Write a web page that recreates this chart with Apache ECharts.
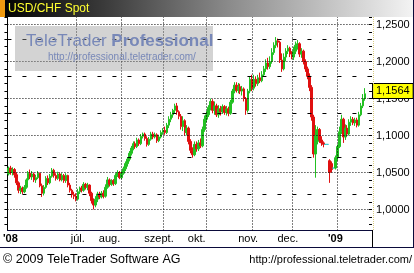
<!DOCTYPE html>
<html><head><meta charset="utf-8">
<script src="https://cdn.jsdelivr.net/npm/echarts@6/dist/echarts.min.js"></script>
<style>html,body{margin:0;padding:0;background:#fff}#c{width:414px;height:273px}</style>
</head><body><div id="c"></div><script>
// ---------- data ----------
const title = 'USD/CHF Spot';
// trading-day categories (weekdays) from 2008-05-14, 184 slots (last 3 empty)
const categories = [];
(function () {
  const d = new Date(Date.UTC(2008, 4, 14));
  while (categories.length < 184) {
    const wd = d.getUTCDay();
    if (wd !== 0 && wd !== 6) categories.push(d.toISOString().slice(0, 10));
    d.setUTCDate(d.getUTCDate() + 1);
  }
})();
const open = [1.048,1.056,1.050,1.054,1.047,1.036,1.026,1.029,1.024,1.030,1.040,1.049,1.044,1.048,1.040,1.043,1.049,1.032,1.022,1.030,
1.042,1.036,1.045,1.053,1.046,1.042,1.048,1.040,1.046,1.039,1.046,1.033,1.026,1.020,1.018,1.014,1.024,1.029,1.026,1.034,
1.030,1.033,1.022,1.012,1.006,1.014,1.021,1.017,1.022,1.018,1.030,1.040,1.034,1.039,1.035,1.046,1.050,1.043,1.049,1.055,
1.062,1.068,1.076,1.083,1.089,1.085,1.094,1.089,1.099,1.102,1.096,1.088,1.095,1.102,1.098,1.101,1.093,1.098,1.104,1.107,
1.104,1.114,1.122,1.128,1.134,1.140,1.132,1.126,1.112,1.120,1.104,1.110,1.092,1.080,1.074,1.088,1.082,1.090,1.086,1.108,
1.122,1.128,1.138,1.146,1.134,1.140,1.128,1.136,1.132,1.139,1.131,1.136,1.130,1.145,1.160,1.168,1.161,1.166,1.160,1.163,
1.150,1.134,1.160,1.176,1.164,1.176,1.170,1.178,1.174,1.182,1.190,1.198,1.193,1.200,1.212,1.222,1.228,1.226,1.202,1.190,
1.206,1.214,1.218,1.210,1.206,1.214,1.222,1.224,1.210,1.214,1.200,1.190,1.180,1.165,1.125,1.075,1.092,1.108,1.094,1.090,
1.088,1.088,1.066,1.062,1.056,1.056,1.070,1.085,1.105,1.122,1.098,1.110,1.102,1.118,1.122,1.117,1.121,1.114,1.128,1.140,
1.150];
const close = [1.056,1.050,1.054,1.047,1.036,1.026,1.029,1.024,1.030,1.040,1.049,1.044,1.048,1.040,1.043,1.049,1.032,1.022,1.030,1.042,
1.036,1.045,1.053,1.046,1.042,1.048,1.040,1.046,1.039,1.046,1.033,1.026,1.020,1.018,1.014,1.024,1.029,1.026,1.034,1.030,
1.033,1.022,1.012,1.006,1.014,1.021,1.017,1.022,1.018,1.030,1.040,1.034,1.039,1.035,1.046,1.050,1.043,1.049,1.055,1.062,
1.068,1.076,1.083,1.089,1.085,1.094,1.089,1.099,1.102,1.096,1.088,1.095,1.102,1.098,1.101,1.093,1.098,1.104,1.107,1.104,
1.114,1.122,1.128,1.134,1.140,1.132,1.126,1.112,1.120,1.104,1.110,1.092,1.080,1.074,1.088,1.082,1.090,1.086,1.108,1.122,
1.128,1.138,1.146,1.134,1.140,1.128,1.136,1.132,1.139,1.131,1.136,1.130,1.145,1.160,1.168,1.161,1.166,1.160,1.163,1.150,
1.134,1.160,1.176,1.164,1.176,1.170,1.178,1.174,1.182,1.190,1.198,1.193,1.200,1.212,1.222,1.228,1.226,1.202,1.190,1.206,
1.214,1.218,1.210,1.206,1.214,1.222,1.224,1.210,1.214,1.200,1.190,1.180,1.165,1.125,1.075,1.100,1.108,1.094,1.090,1.088,
1.088,1.088,1.050,1.054,1.056,1.070,1.085,1.105,1.122,1.098,1.110,1.102,1.118,1.122,1.117,1.121,1.114,1.128,1.140,1.150,
1.1564];
const low = [1.046,1.047,1.046,1.043,1.033,1.022,1.021,1.021,1.022,1.028,1.038,1.041,1.040,1.037,1.036,1.041,1.030,1.017,1.019,1.028,
1.033,1.034,1.043,1.043,1.039,1.040,1.038,1.038,1.036,1.036,1.030,1.023,1.016,1.014,1.011,1.012,1.021,1.023,1.024,1.027,
1.026,1.018,1.008,1.000,1.003,1.010,1.014,1.015,1.015,1.016,1.028,1.031,1.032,1.032,1.033,1.044,1.041,1.041,1.047,1.052,
1.058,1.065,1.073,1.080,1.082,1.083,1.086,1.087,1.096,1.093,1.085,1.086,1.093,1.095,1.096,1.090,1.091,1.096,1.101,1.101,
1.102,1.110,1.118,1.124,1.130,1.128,1.122,1.108,1.106,1.100,1.100,1.088,1.076,1.070,1.072,1.078,1.079,1.083,1.084,1.105,
1.118,1.125,1.134,1.130,1.128,1.125,1.124,1.127,1.129,1.128,1.127,1.126,1.128,1.143,1.157,1.158,1.157,1.156,1.154,1.146,
1.128,1.131,1.157,1.160,1.161,1.166,1.167,1.171,1.172,1.179,1.186,1.189,1.190,1.197,1.209,1.218,1.219,1.198,1.186,1.188,
1.200,1.210,1.206,1.203,1.202,1.210,1.216,1.206,1.205,1.196,1.186,1.176,1.160,1.120,1.070,1.043,1.088,1.090,1.086,1.084,
1.088,1.088,1.036,1.050,1.056,1.054,1.066,1.083,1.102,1.090,1.094,1.099,1.100,1.113,1.114,1.113,1.111,1.112,1.126,1.137,
1.147];
const high = [1.058,1.059,1.057,1.056,1.050,1.038,1.032,1.031,1.033,1.042,1.052,1.054,1.052,1.050,1.047,1.052,1.050,1.035,1.033,1.045,
1.046,1.048,1.056,1.055,1.049,1.051,1.050,1.049,1.048,1.049,1.047,1.036,1.028,1.024,1.022,1.028,1.031,1.032,1.037,1.036,
1.036,1.034,1.024,1.015,1.018,1.024,1.024,1.025,1.026,1.034,1.044,1.042,1.041,1.041,1.049,1.053,1.052,1.052,1.058,1.065,
1.071,1.079,1.086,1.092,1.092,1.097,1.096,1.102,1.104,1.104,1.099,1.098,1.105,1.105,1.104,1.103,1.101,1.107,1.110,1.112,
1.117,1.126,1.132,1.136,1.143,1.144,1.134,1.129,1.126,1.122,1.114,1.112,1.095,1.084,1.092,1.092,1.094,1.096,1.112,1.127,
1.133,1.141,1.150,1.149,1.146,1.143,1.141,1.140,1.142,1.141,1.140,1.139,1.148,1.163,1.172,1.172,1.171,1.170,1.167,1.165,
1.152,1.163,1.180,1.182,1.182,1.180,1.182,1.185,1.187,1.194,1.203,1.205,1.207,1.218,1.226,1.233,1.231,1.228,1.211,1.211,
1.218,1.222,1.220,1.214,1.220,1.227,1.229,1.226,1.218,1.216,1.203,1.193,1.184,1.168,1.128,1.114,1.112,1.110,1.099,1.092,
1.088,1.088,1.068,1.065,1.056,1.073,1.088,1.112,1.128,1.124,1.115,1.114,1.122,1.126,1.125,1.124,1.124,1.132,1.144,1.156,
1.164];
const yLabelValues = [1.00, 1.05, 1.10, 1.15, 1.20, 1.25];
const yHalfValues = [0.975, 1.025, 1.075, 1.125, 1.175, 1.225];
const monthStarts = ['2008-07-01','2008-08-01','2008-09-01','2008-10-01','2008-11-03','2008-12-01','2009-01-01'];
const xTickDates  = ['2008-05-15','2008-07-02','2008-07-24','2008-08-28','2008-09-24','2008-10-30','2008-11-27','2008-12-31'];
const xTickLabels = ["'08", 'júl.', 'aug.', 'szept.', 'okt.', 'nov.', 'dec.', "'09"];
const yearLabels = ["'08", "'09"];

// ---------- build ----------
const FONT = '"Liberation Sans", Arial, sans-serif';
const yMin = 0.97162, yMax = 1.26014;
const fmt = v => v.toFixed(4).replace('.', ',');
const candles = open.map((o, i) => [o, close[i], low[i], high[i]]);
const last = close[close.length - 1];
const labelMap = new Map(xTickDates.map((d, i) => [d, xTickLabels[i]]));
const minorTicks = [];
for (let k = 97; k <= 126; k++) minorTicks.push(+(k / 100).toFixed(2));

const dotted = { type: [1, 2], color: '#000', width: 1 };
const dashed = { type: [4, 11], color: '#000', width: 1 };
const markData = []
  .concat(yLabelValues.map(v => ({ yAxis: v, lineStyle: dotted })))
  .concat(yHalfValues.map(v => ({ yAxis: v, lineStyle: dashed })))
  .concat(monthStarts.map(d => ({ xAxis: d, lineStyle: { type: [1, 2], color: '#000', width: 1 } })));

const chart = echarts.init(document.getElementById('c'));
chart.setOption({
  animation: false,
  backgroundColor: '#ffffff',
  grid: { left: 3, top: 17, width: 369, height: 213.5, show: true, backgroundColor: '#ffffff', borderWidth: 0 },
  xAxis: {
    type: 'category', data: categories, boundaryGap: true,
    axisLine: { show: true, lineStyle: { color: '#0a0a3a', width: 1 } },
    axisTick: { show: false }, splitLine: { show: false },
    axisLabel: {
      interval: (i, v) => labelMap.has(v),
      formatter: v => { const t = labelMap.get(v) || ''; return yearLabels.includes(t) ? '{y|' + t + '}' : '{m|' + t + '}'; },
      margin: 3,
      rich: {
        y: { fontSize: 11, fontWeight: 'bold', color: '#000', fontFamily: FONT },
        m: { fontSize: 11, color: '#000', fontFamily: FONT }
      }
    }
  },
  yAxis: [{
    type: 'value', position: 'right', min: yMin, max: yMax,
    axisLine: { show: false }, splitLine: { show: false },
    axisTick: { show: true, inside: true, length: 3, customValues: minorTicks, lineStyle: { color: '#000' } },
    axisLabel: { customValues: yLabelValues, formatter: v => fmt(v), margin: 4, fontSize: 11, color: '#000', fontFamily: FONT }
  }, {
    type: 'value', position: 'left', min: yMin, max: yMax,
    axisLine: { show: true, lineStyle: { color: '#000' } }, splitLine: { show: false },
    axisTick: { show: true, inside: false, length: 3, customValues: minorTicks, lineStyle: { color: '#000' } },
    axisLabel: { show: false }
  }],
  series: [{
    type: 'candlestick', data: candles, barWidth: 2, z: 3,
    itemStyle: { color: '#22c022', color0: '#e01010', borderColor: '#22c022', borderColor0: '#e01010', borderColorDoji: '#33cccc', borderWidth: 1 },
    markLine: { silent: true, symbol: ['none', 'none'], label: { show: false }, data: markData }
  }, {
    // last-price tag on the value axis
    type: 'line', data: [], z: 30,
    markLine: {
      silent: true, symbol: ['none', 'none'],
      lineStyle: { color: 'rgba(0,0,0,0)', width: 1 },
      label: { show: true, position: 'end', distance: 1, formatter: () => fmt(last),
        backgroundColor: '#ffff00', borderColor: '#000', borderWidth: 1, padding: [2, 3, 1, 3],
        color: '#000', fontSize: 11, fontFamily: FONT },
      data: [{ yAxis: last }]
    }
  }],
  graphic: [
    { type: 'rect', z: 20, shape: { x: 0, y: 0, width: 414, height: 17 },
      style: { fill: new echarts.graphic.LinearGradient(0, 0, 1, 0, [{ offset: 0, color: '#000000' }, { offset: 0.25, color: '#3a3a3a' }, { offset: 0.55, color: '#8a8a8a' }, { offset: 1, color: '#f4f4f4' }]) } },
    { type: 'rect', z: 21, shape: { x: 0, y: 0, width: 5, height: 17 }, style: { fill: '#f09a10' } },
    { type: 'text', z: 22, x: 8, y: 9, style: { text: title, fill: '#ffff30', font: '12px ' + FONT, verticalAlign: 'middle' } },
    { type: 'rect', z: 10, shape: { x: 15, y: 26, width: 198, height: 45 }, style: { fill: 'rgba(150,150,150,0.42)' } },
    { type: 'text', z: 11, x: 26, y: 41, style: { rich: { a: { fontSize: 17, fontFamily: FONT, fill: '#7888b8' }, b: { fontSize: 17, fontWeight: 'bold', fontFamily: FONT, fill: '#7888b8' } }, text: '{a|TeleTrader }{b|Professional}', verticalAlign: 'middle' } },
    { type: 'text', z: 11, x: 48, y: 57, style: { text: 'http://professional.teletrader.com/', fill: '#7888b8', font: '10px ' + FONT, verticalAlign: 'middle' } },
    { type: 'line', z: 20, shape: { x1: 373.5, y1: 17, x2: 373.5, y2: 230 }, style: { stroke: '#d8cc80', lineWidth: 1, lineDash: [1, 1] } },
    { type: 'line', z: 20, shape: { x1: 372.5, y1: 230, x2: 372.5, y2: 247 }, style: { stroke: '#000', lineWidth: 1 } },
    { type: 'line', z: 20, shape: { x1: 0, y1: 247.5, x2: 414, y2: 247.5 }, style: { stroke: '#0a0a3a', lineWidth: 1 } },
    { type: 'line', z: 20, shape: { x1: 413.5, y1: 0, x2: 413.5, y2: 248 }, style: { stroke: '#0a0a3a', lineWidth: 1 } },
    { type: 'text', z: 20, x: 3, y: 260, style: { text: '© 2009 TeleTrader Software AG', fill: '#000', font: '12.5px ' + FONT, verticalAlign: 'middle' } },
    { type: 'text', z: 20, x: 412, y: 260, style: { text: 'http://professional.teletrader.com/', fill: '#000', font: '11px ' + FONT, verticalAlign: 'middle', align: 'right' } }
  ]
});
</script></body></html>
